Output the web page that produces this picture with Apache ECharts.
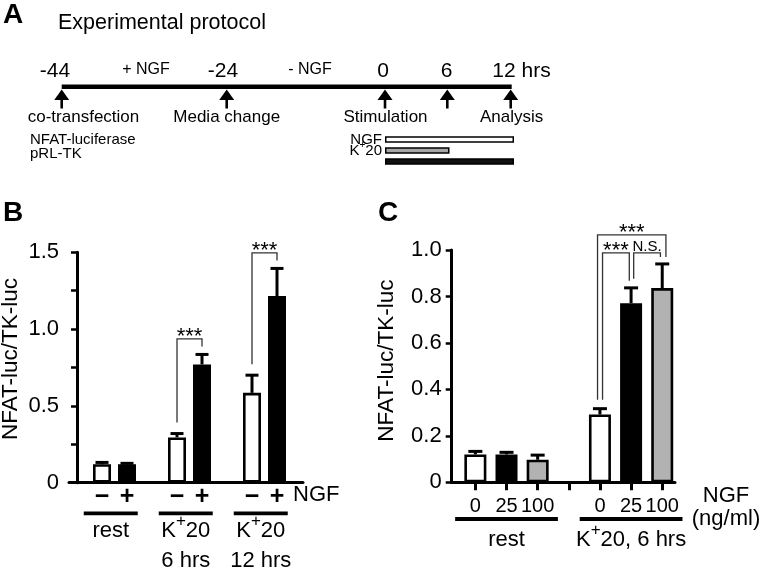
<!DOCTYPE html>
<html>
<head>
<meta charset="utf-8">
<script src="https://cdn.jsdelivr.net/npm/echarts@6/dist/echarts.min.js"></script>
<style>
html,body{margin:0;padding:0;background:#fff;}
#c{width:760px;height:572px;}
</style>
</head>
<body>
<div id="c"></div>
<script>
// ---------------- Panel A: protocol ----------------
const protocolTitle = 'Experimental protocol';
const protocolTimes = ['-44', '-24', '0', '6', '12 hrs'];
const protocolEvents = ['co-transfection', 'Media change', 'Stimulation', '', 'Analysis'];
const protocolPhases = ['+ NGF', '- NGF'];
const transfectedConstructs = ['NFAT-luciferase', 'pRL-TK'];
const treatmentNames = ['NGF', 'K+20', 'K+20'];
const treatmentHours = [12, 6, 12];

// ---------------- Panel B ----------------
const bGroups = ['rest', 'K+20\n6 hrs', 'K+20\n12 hrs'];
const bNgfLabels = ['\u2212', '+'];
const bMinusNgf = [0.12, 0.295, 0.585];
const bMinusNgfSem = [0.012, 0.025, 0.115];
const bPlusNgf = [0.12, 0.77, 1.215];
const bPlusNgfSem = [0.006, 0.065, 0.18];
const bComparisons = [{group: 1, label: '***'}, {group: 2, label: '***'}];

// ---------------- Panel C ----------------
const cGroups = ['rest', 'K+20, 6 hrs'];
const cDoses = ['0', '25', '100'];
const cDose0 = [0.12, 0.292];
const cDose0Sem = [0.013, 0.025];
const cDose25 = [0.12, 0.771];
const cDose25Sem = [0.009, 0.066];
const cDose100 = [0.097, 0.836];
const cDose100Sem = [0.02, 0.104];
const cComparisons = [
  {group: 1, from: 0, to: 1, label: '***', level: 1},
  {group: 1, from: 1, to: 2, label: 'N.S.', level: 1},
  {group: 1, from: 0, to: 2, label: '***', level: 2}
];

// ---------------- helpers / layout ----------------
const F = "'Liberation Sans', Arial, Helvetica, sans-serif";
const BLACK = '#000';
const GRAY = '#b2b2b2';
const posB = (g, k) => g * 3 + 1 + k;
const posC = (g, d) => g * 4 + 1 + d;
const cMeans = [cDose0, cDose25, cDose100];
const cSems = [cDose0Sem, cDose25Sem, cDose100Sem];
const cColors = ['#fff', BLACK, GRAY];
const cTop = (g, d) => cMeans[d][g] + cSems[d][g];

function supK(s) {
  return s.split('\n').map(line =>
    line.split('K+').map(p => p ? '{t|' + p + '}' : '').join('{t|K}{s|+}')
  ).join('\n');
}
const RICH_BIG = {
  t: {fontSize: 22, lineHeight: 30, fontFamily: F, color: BLACK},
  s: {fontSize: 17, lineHeight: 11, padding: [0, 0, 19, 0], fontFamily: F, color: BLACK}
};
const RICH_SMALL = {
  t: {fontSize: 15, lineHeight: 16, fontFamily: F, color: BLACK},
  s: {fontSize: 10, lineHeight: 6, padding: [0, 0, 10, 0], fontFamily: F, color: BLACK}
};

function txt(text, x, y, size, opt) {
  opt = opt || {};
  const a = opt.align || 'center', va = opt.va || 'middle';
  const st = {text: text, fill: BLACK, font: (opt.weight || 'normal') + ' ' + size + 'px ' + F,
    align: a, verticalAlign: va, textAlign: a, textVerticalAlign: va};
  return {type: 'text', x: x, y: y, silent: true, style: st};
}

// Panel A schematic layout (pixel layout of the drawing)
const A = {lineY: 86.7, x0: 61.7, x1: 511.7,
  pointX: [61.7, 226.7, 385, 447.3, 510.7],
  timeLabelX: [55, 223, 383, 446.7, 521.5],
  eventX: [83.5, 226.7, 385.5, 447.3, 511.6],
  phaseX: [146, 310]};

const G = [];
G.push(txt('A', 3, 15, 28, {align: 'left', weight: 'bold'}));
G.push(txt(protocolTitle, 58, 23, 21.5, {align: 'left'}));
G.push({type: 'line', silent: true, shape: {x1: A.x0, y1: A.lineY, x2: A.x1, y2: A.lineY}, style: {stroke: BLACK, lineWidth: 4.5}});
A.pointX.forEach((x, i) => {
  G.push({type: 'polygon', silent: true, shape: {points: [[x - 7.5, 100], [x, 89.5], [x + 7.5, 100]]}, style: {fill: BLACK}});
  G.push({type: 'line', silent: true, shape: {x1: x, y1: 99, x2: x, y2: 108.5}, style: {stroke: BLACK, lineWidth: 2.6}});
  G.push(txt(protocolTimes[i], A.timeLabelX[i], 71, 21));
  if (protocolEvents[i]) G.push(txt(protocolEvents[i], A.eventX[i], 117, 17));
});
protocolPhases.forEach((p, i) => G.push(txt(p, A.phaseX[i], 70, 16)));
transfectedConstructs.forEach((t, i) => G.push(txt(t, 30, 140 + i * 14, 15, {align: 'left'})));
G.push(txt('B', 3, 213, 28, {align: 'left', weight: 'bold'}));
G.push(txt('C', 378, 213, 28, {align: 'left', weight: 'bold'}));

// ---------------- custom renderers ----------------
function errSeries(xi, yi, pts, capHalf) {
  return {
    type: 'custom', xAxisIndex: xi, yAxisIndex: yi, silent: true, clip: false, z: 3,
    encode: {x: 0, y: 1}, data: pts,
    renderItem: function (params, api) {
      const x = api.value(0), m = api.value(1), s = api.value(2);
      const a = api.coord([x, m]), b = api.coord([x, m + s]);
      return {type: 'group', children: [
        {type: 'line', shape: {x1: a[0], y1: a[1], x2: b[0], y2: b[1]}, style: {stroke: BLACK, lineWidth: 3}},
        {type: 'line', shape: {x1: b[0] - capHalf, y1: b[1], x2: b[0] + capHalf, y2: b[1]}, style: {stroke: BLACK, lineWidth: 3}}
      ]};
    }
  };
}

function bracketShape(xl, yl, xr, yr, Y, label, isNS) {
  const fs = isNS ? 15 : 22;
  const ty = isNS ? Y - 6 : Y - 2;
  return {type: 'group', children: [
    {type: 'polyline', shape: {points: [[xl, yl], [xl, Y], [xr, Y], [xr, yr]]}, style: {stroke: '#333', lineWidth: 1.3, fill: null}},
    {type: 'text', x: (xl + xr) / 2, y: ty, style: {text: label, fill: BLACK, font: fs + 'px ' + F,
      align: 'center', verticalAlign: 'middle', textAlign: 'center', textVerticalAlign: 'middle'}}
  ]};
}

const bBracketSeries = {
  type: 'custom', xAxisIndex: 0, yAxisIndex: 0, silent: true, clip: false, z: 4,
  encode: {x: [0, 1], y: [2, 3]},
  data: bComparisons.map(c => [posB(c.group, 0), posB(c.group, 1),
    bMinusNgf[c.group] + bMinusNgfSem[c.group], bPlusNgf[c.group] + bPlusNgfSem[c.group]]),
  renderItem: function (params, api) {
    const c = bComparisons[params.dataIndex];
    const pl = api.coord([api.value(0), api.value(2)]);
    const pr = api.coord([api.value(1), api.value(3)]);
    const Y = Math.min(pl[1], pr[1]) - 15.5;
    return bracketShape(pl[0], pl[1] - 11, pr[0], pr[1] - 8, Y, c.label, false);
  }
};

const cBracketSeries = {
  type: 'custom', xAxisIndex: 1, yAxisIndex: 1, silent: true, clip: false, z: 4,
  encode: {x: [0, 1], y: [2, 3, 4]},
  data: cComparisons.map(c => [posC(c.group, c.from), posC(c.group, c.to),
    cTop(c.group, c.from), cTop(c.group, c.to),
    Math.max(cTop(c.group, 0), cTop(c.group, 1), cTop(c.group, 2))]),
  renderItem: function (params, api) {
    const c = cComparisons[params.dataIndex];
    const pl = api.coord([api.value(0), api.value(2)]);
    const pr = api.coord([api.value(1), api.value(3)]);
    const ref = api.coord([api.value(0), api.value(4)])[1];
    const Y = ref - 11 - (c.level - 1) * 18;
    const dl = c.level === 1 ? 2.6 : -2.4;
    const dr = c.level === 1 ? -1.8 : 3.7;
    return bracketShape(pl[0] + dl, pl[1] - 9, pr[0] + dr, pr[1] - 7, Y, c.label, c.label === 'N.S.');
  }
};

function groupSeries(xi, yi, names, centerOf, halfW, lineOff, textOff) {
  return {
    type: 'custom', xAxisIndex: xi, yAxisIndex: yi, silent: true, clip: false, z: 4,
    encode: {x: 0, y: 1},
    data: names.map((n, i) => [centerOf(i), 0]),
    renderItem: function (params, api) {
      const c = api.value(0);
      const p = api.coord([c, 0]);
      const l = api.coord([c - halfW, 0])[0], r = api.coord([c + halfW, 0])[0];
      return {type: 'group', children: [
        {type: 'line', shape: {x1: l, y1: p[1] + lineOff, x2: r, y2: p[1] + lineOff}, style: {stroke: BLACK, lineWidth: 3.8}},
        {type: 'text', x: p[0], y: p[1] + textOff, style: {text: supK(names[params.dataIndex]), rich: RICH_BIG,
          fill: BLACK, font: '22px ' + F, align: 'center', verticalAlign: 'top', textAlign: 'center', textVerticalAlign: 'top'}}
      ]};
    }
  };
}

// ---------------- series ----------------
const series = [];
// Panel B bars
series.push({type: 'bar', name: 'B -NGF', xAxisIndex: 0, yAxisIndex: 0, barWidth: 18, barGap: '-100%', silent: true,
  data: bMinusNgf.map((v, g) => [posB(g, 0), v]),
  itemStyle: {color: '#fff', borderColor: BLACK, borderWidth: 2.6}});
series.push({type: 'bar', name: 'B +NGF', xAxisIndex: 0, yAxisIndex: 0, barWidth: 18, barGap: '-100%', silent: true,
  data: bPlusNgf.map((v, g) => [posB(g, 1), v]),
  itemStyle: {color: BLACK, borderColor: BLACK, borderWidth: 2.6}});
series.push(errSeries(0, 0, bMinusNgf.map((v, g) => [posB(g, 0), v, bMinusNgfSem[g]]), 6.5));
series.push(errSeries(0, 0, bPlusNgf.map((v, g) => [posB(g, 1), v, bPlusNgfSem[g]]), 6.5));
series.push(bBracketSeries);
series.push(groupSeries(0, 0, bGroups, i => posB(i, 0) + 0.35, 1.08, 30.6, 33.5));

// Panel C bars
cDoses.forEach((d, k) => {
  series.push({type: 'bar', name: 'C ' + d, xAxisIndex: 1, yAxisIndex: 1, barWidth: 22, barGap: '-100%', silent: true,
    data: cMeans[k].map((v, g) => [posC(g, k), v]),
    itemStyle: {color: cColors[k], borderColor: BLACK, borderWidth: 2.6}});
});
cDoses.forEach((d, k) => {
  series.push(errSeries(1, 1, cMeans[k].map((v, g) => [posC(g, k), v, cSems[k][g]]), 7));
});
series.push(cBracketSeries);
series.push(groupSeries(1, 1, cGroups, i => posC(i, 1), 1.65, 36.7, 42.5));

// Panel A treatment bars
series.push({type: 'bar', name: 'treatment', xAxisIndex: 2, yAxisIndex: 2, barWidth: 6.5, silent: true,
  data: treatmentHours.map((h, i) => ({value: h, itemStyle: {color: ['#fff', '#a6a6a6', '#111'][i]}})),
  itemStyle: {borderColor: BLACK, borderWidth: 1.5}});

const axisLineStyle = {show: true, lineStyle: {color: BLACK, width: 3}};
const fmtY = v => v === 0 ? '0' : v.toFixed(1);

const option = {
  animation: false,
  backgroundColor: '#fff',
  textStyle: {fontFamily: F, color: BLACK},
  grid: [
    {left: 69, top: 252.3, width: 234, height: 230.4, outerBoundsMode: 'none', containLabel: false},
    {left: 451.7, top: 250, width: 223.3, height: 232.3, outerBoundsMode: 'none', containLabel: false},
    {left: 385, top: 134, width: 129, height: 33, outerBoundsMode: 'none', containLabel: false}
  ],
  xAxis: [
    {gridIndex: 0, type: 'value', min: -0.32, max: 9.04,
      axisLine: axisLineStyle, axisTick: {show: false}, splitLine: {show: false},
      axisLabel: {customValues: [1, 2, 4, 5, 7, 8], fontSize: 25, fontWeight: 'bold', color: BLACK, margin: 2, fontFamily: F,
        formatter: v => bNgfLabels[Math.round(v - 1) % 3] || ''},
      name: 'NGF', nameLocation: 'end', nameGap: -10, nameMoveOverlap: false,
      nameTextStyle: {fontSize: 22, color: BLACK, fontFamily: F, align: 'left', verticalAlign: 'top', lineHeight: 22, padding: [1, 0, 0, 0]}},
    {gridIndex: 1, type: 'value', min: 0.24, max: 7.41,
      axisLine: axisLineStyle,
      axisTick: {show: true, customValues: [1, 2, 3, 4, 5, 6, 7], length: 8, lineStyle: {color: BLACK, width: 3}},
      splitLine: {show: false},
      axisLabel: {customValues: [1, 2, 3, 5, 6, 7], fontSize: 20, color: BLACK, margin: 14, fontFamily: F,
        formatter: v => cDoses[Math.round(v - 1) % 4] || ''},
      name: 'NGF\n(ng/ml)', nameLocation: 'end', nameGap: 51, nameMoveOverlap: false,
      nameTextStyle: {fontSize: 22, color: BLACK, fontFamily: F, align: 'center', verticalAlign: 'top', lineHeight: 23, padding: [2, 0, 0, 0]}},
    {gridIndex: 2, type: 'value', min: 0, max: 12, show: false}
  ],
  yAxis: [
    {gridIndex: 0, type: 'value', min: 0, max: 1.5, interval: 0.25,
      axisLine: axisLineStyle,
      axisTick: {show: true, length: 6, lineStyle: {color: BLACK, width: 2.5}},
      splitLine: {show: false},
      axisLabel: {fontSize: 22, color: BLACK, margin: 10, fontFamily: F,
        formatter: v => (Math.round(v * 4) % 2 === 0 ? fmtY(v) : '')},
      name: 'NFAT-luc/TK-luc', nameLocation: 'middle', nameGap: 47, nameMoveOverlap: false,
      nameTextStyle: {fontSize: 22.5, color: BLACK, fontFamily: F, padding: [0, 0, 0, 17]}},
    {gridIndex: 1, type: 'value', min: 0, max: 1.0, interval: 0.2,
      axisLine: axisLineStyle,
      axisTick: {show: true, length: 6, lineStyle: {color: BLACK, width: 2.5}},
      splitLine: {show: false},
      axisLabel: {fontSize: 22, color: BLACK, margin: 10, fontFamily: F, formatter: fmtY},
      name: 'NFAT-luc/TK-luc', nameLocation: 'middle', nameGap: 53.5, nameMoveOverlap: false,
      nameTextStyle: {fontSize: 22.5, color: BLACK, fontFamily: F, padding: [0, 0, 0, 11]}},
    {gridIndex: 2, type: 'category', data: treatmentNames, inverse: true,
      axisLine: {show: false}, axisTick: {show: false}, splitLine: {show: false},
      axisLabel: {show: true, interval: 0, margin: 3, fontSize: 15, color: BLACK, fontFamily: F, rich: RICH_SMALL,
        formatter: (v, i) => treatmentNames.indexOf(v) === i ? (v.indexOf('K+') >= 0 ? supK(v) : v) : ''}}
  ],
  series: series,
  graphic: {elements: G}
};

const chart = echarts.init(document.getElementById('c'), null, {renderer: 'canvas'});
chart.setOption(option);
</script>
</body>
</html>
